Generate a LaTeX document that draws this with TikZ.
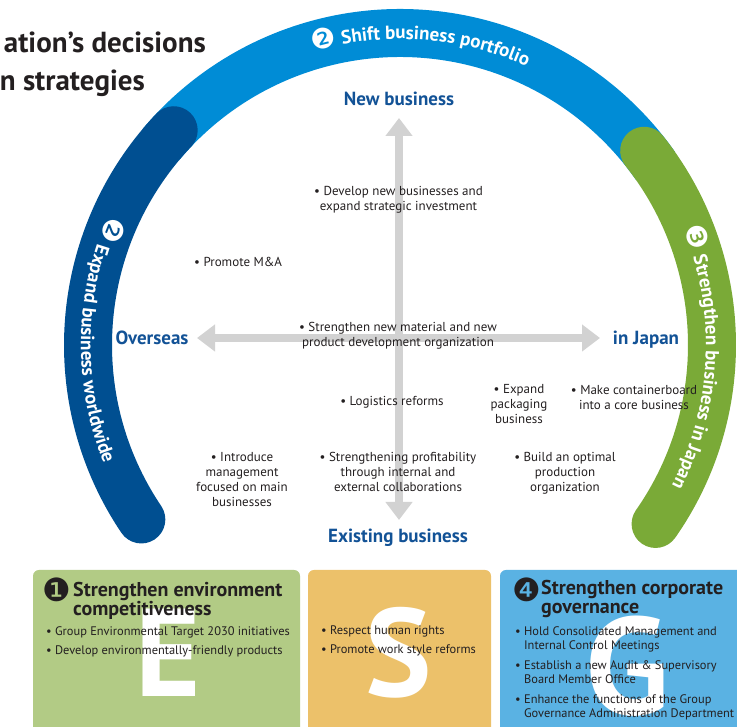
\documentclass[tikz,border=0pt]{standalone}
\usepackage{fontspec}
\setmainfont{PT Sans}
\newfontfamily\dvfont{DejaVu Sans}
\usetikzlibrary{arrows.meta,decorations.text}
\definecolor{arcblue}{RGB}{0,140,214}
\definecolor{arcnavy}{RGB}{0,79,145}
\definecolor{arcgreen}{RGB}{122,170,55}
\definecolor{labelblue}{RGB}{18,82,150}
\definecolor{axisgray}{RGB}{210,210,210}
\definecolor{boxgreen}{RGB}{178,203,133}
\definecolor{boxorange}{RGB}{236,193,106}
\definecolor{boxblue}{RGB}{90,178,227}
\definecolor{ink}{RGB}{35,31,32}
\tikzset{
  band/.style={line width=48pt},
  arctext/.style={decorate,decoration={text along path,text align=center,text={#1}}},
  item/.style={font=\fontsize{13}{15}\selectfont,align=center,text=ink,anchor=base,inner sep=0pt},
  axislabel/.style={font=\bfseries\fontsize{19}{20}\selectfont,text=labelblue,anchor=base,inner sep=0pt},
  axisarrow/.style={axisgray,line width=8pt,{Triangle[width=26pt,length=18pt]}-{Triangle[width=26pt,length=18pt]}},
  boxhead/.style={font=\bfseries\fontsize{20}{19}\selectfont,align=left,text=ink,anchor=base west,inner sep=0pt},
  boxitem/.style={font=\fontsize{12.4}{14.5}\selectfont,align=left,text=ink,anchor=base west,inner sep=0pt},
  bigletter/.style={font=\bfseries\fontsize{125}{125}\selectfont,text=white,anchor=base,inner sep=0pt},
  numdot/.style={font=\dvfont\fontsize{32}{32}\selectfont,text=ink,inner sep=0pt},
  titletext/.style={font=\bfseries\fontsize{29}{30}\selectfont,text=ink,anchor=base east,inner sep=0pt}
}
\newcommand{\arcfnt}{\bfseries\fontsize{19}{20}\selectfont\color{white}}
\newcommand{\arcdig}{\dvfont\fontsize{28}{20}\selectfont\color{white}}
\begin{document}
\begin{tikzpicture}[x=1pt,y=1pt]
\useasboundingbox (0,0) rectangle (737,727);
\clip (0,0) rectangle (737,727);
\coordinate (c) at (400,382);
% arcs
\draw[band,arcblue] ([shift={(140:312)}]c) arc[start angle=140,end angle=35,radius=312];
\draw[band,arcnavy,line cap=round] ([shift={(136.5:312)}]c) arc[start angle=136.5,end angle=214,radius=312];
\draw[band,arcgreen,line cap=round] ([shift={(38.5:312)}]c) arc[start angle=38.5,end angle=-35,radius=312];
% arc texts
\path[arctext={|\arcdig|❷|\arcfnt| Shift business portfolio}] ([shift={(122:306)}]c) arc[start angle=122,end angle=50,radius=306];
\path[arctext={|\arcdig|❷|\arcfnt| Expand business worldwide}] ([shift={(130:319)}]c) arc[start angle=130,end angle=228,radius=319];
\path[arctext={|\arcdig|❸|\arcfnt| Strengthen business in Japan}] ([shift={(47:306)}]c) arc[start angle=47,end angle=-52,radius=306];
% title
\node[titletext] (t1) at (206,674) {ation’s decisions};
\node[titletext] (t2) at (145,636) {n strategies};
% axes
\coordinate (top) at (399,609);
\coordinate (bot) at (399,207);
\coordinate (lft) at (197,389);
\coordinate (rgt) at (600,389);
\draw[axisarrow] (bot) -- (top);
\draw[axisarrow] (lft) -- (rgt);
% axis labels
\node[axislabel] (newb) at (399,621) {New business};
\node[axislabel] (exist) at (398,184) {Existing business};
\node[axislabel] (over) at (152,382) {Overseas};
\node[axislabel] (japan) at (646,382) {in Japan};
% items (base = last line)
\node[item] (dev) at (398.5,516) {• Develop new businesses and\\expand strategic investment};
\node[item,anchor=base west] (mna) at (194,460) {• Promote M\&A};
\node[item] (str) at (398,380) {• Strengthen new material and new\\product development organization};
\node[item] (log) at (392,321) {• Logistics reforms};
\node[item] (intro) at (242,220) {• Introduce\\management\\focused on main\\businesses};
\node[item] (prof) at (398,235) {• Strengthening profitability\\through internal and\\external collaborations};
\node[item] (expand) at (519,303) {• Expand\\packaging\\business};
\node[item] (make) at (634,317) {• Make containerboard\\into a core business};
\node[item] (build) at (565,235) {• Build an optimal\\production\\organization};
% boxes
\fill[boxgreen,rounded corners=6pt] (33,157) rectangle (300,-20);
\fill[boxorange,rounded corners=6pt] (308,157) rectangle (491,-20);
\fill[boxblue,rounded corners=6pt] (500,157) rectangle (770,-20);
\node[bigletter] (E) at (168,30) {E};
\node[bigletter] (S) at (399,30) {S};
\node[bigletter,font=\bfseries\fontsize{138}{138}\selectfont] (G) at (628,12) {G};
% green box
\node[numdot] (n1) at (57,137) {❶};
\node[boxhead] (h1) at (73,111) {Strengthen environment\\competitiveness};
\node[boxitem] (g1) at (46,91) {• Group Environmental Target 2030 initiatives};
\node[boxitem] (g2) at (46,72) {• Develop environmentally-friendly products};
% orange box
\node[boxitem] (s1) at (321,92) {• Respect human rights};
\node[boxitem] (s2) at (321,73) {• Promote work style reforms};
% blue box
\node[numdot] (n4) at (527,137) {❹};
\node[boxhead] (h4) at (541,113) {Strengthen corporate\\governance};
\node[boxitem] (b1) at (515,77) {• Hold Consolidated Management and\\\hphantom{• }Internal Control Meetings};
\node[boxitem] (b2) at (515,43) {• Establish a new Audit \& Supervisory\\\hphantom{• }Board Member Office};
\node[boxitem] (b3) at (515,9) {• Enhance the functions of the Group\\\hphantom{• }Governance Administration Department};
\end{tikzpicture}
\end{document}
